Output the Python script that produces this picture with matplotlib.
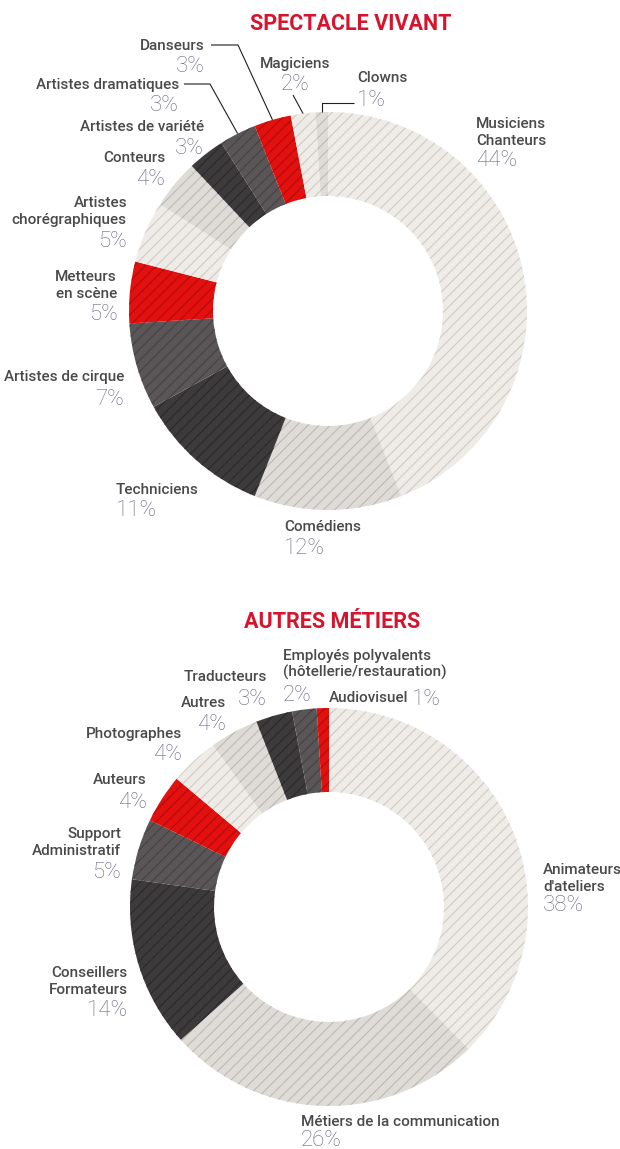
import matplotlib
matplotlib.use('Agg')
import matplotlib.pyplot as plt
import numpy as np

plt.rcParams['font.family'] = ['Roboto', 'DejaVu Sans']
plt.rcParams['hatch.linewidth'] = 0.8

# ---------------- data ----------------
sv_title = 'SPECTACLE VIVANT'
sv_labels = ['Musiciens\nChanteurs', 'Comédiens', 'Techniciens', 'Artistes de cirque',
             'Metteurs\nen scène', 'Artistes\nchorégraphiques', 'Conteurs',
             'Artistes de variété', 'Artistes dramatiques', 'Danseurs', 'Magiciens', 'Clowns']
sv_values = [44, 12, 11, 7, 5, 5, 4, 3, 3, 3, 2, 1]

am_title = 'AUTRES MÉTIERS'
am_labels = ["Animateurs\nd'ateliers", 'Métiers de la communication', 'Conseillers\nFormateurs',
             'Support\nAdministratif', 'Auteurs', 'Photographes', 'Autres', 'Traducteurs',
             'Employés polyvalents\n(hôtellerie/restauration)', 'Audiovisuel']
am_values = [38, 26, 14, 5, 4, 4, 4, 3, 2, 1]

# ---------------- style ----------------
palette = ['#efebe7', '#dfdbd7', '#3d3a3c', '#5a5658', '#e2100f']
hatch_cols = ['#cfcac5', '#bdb8b3', '#2b292a', '#464244', '#b30b0b']
label_col = '#4a4a4a'
pct_col = '#67667e'
title_col = '#d7142e'

W, H, DPI = 620, 1149, 100
R_OUT, R_IN = 199, 115

# label layout: x, ha, first-line centre y, percent x, percent centre y  (pixels)
sv_layout = [
    (476, 'left', 123, 476, 158), (284, 'left', 526, 284, 546), (116, 'left', 489, 116, 508),
    (124, 'right', 376, 124, 397), (117, 'right', 276, 118, 312), (127, 'right', 202, 127, 239),
    (165, 'right', 157, 165, 177), (204, 'right', 126, 204, 146), (179, 'right', 84, 179, 103),
    (205, 'right', 45, 205, 64), (295, 'center', 63, 295, 82), (357, 'left', 77, 357, 98),
]
am_layout = [
    (543, 'left', 869, 543, 903), (301, 'left', 1121, 301, 1138), (128, 'right', 972, 128, 1008),
    (121, 'right', 833, 121, 870), (147, 'right', 779, 147, 800), (182, 'right', 733, 182, 752),
    (226, 'right', 702, 226, 722), (267, 'right', 676, 267, 697), (283, 'left', 655, 283, 693),
    (329, 'left', 697, 412, 697),
]
# leader elbows (index -> list of elbow points), end point computed from wedge
sv_leaders = {9: [(211, 45), (238, 45)], 8: [(184, 84), (210, 84)],
              10: [(293, 95)], 11: [(354, 103), None]}

fig = plt.figure(figsize=(W / DPI, H / DPI), dpi=DPI)
fig.patch.set_facecolor('white')

LBL_FS = 11
PCT_FS = 16
LINE_H = 16.3


def donut(cx, cy, values):
    ax = fig.add_axes([(cx - R_OUT) / W, (H - cy - R_OUT) / H, 2 * R_OUT / W, 2 * R_OUT / H])
    cols = [palette[i % 5] for i in range(len(values))]
    wedges, _ = ax.pie(values, colors=cols, startangle=90, counterclock=False, radius=1,
                       wedgeprops=dict(width=1 - R_IN / R_OUT, linewidth=0))
    for i, w in enumerate(wedges):
        w.set_hatch('///')
        w.set_edgecolor(hatch_cols[i % 5])
        w.set_linewidth(0)
    ax.set_xlim(-1, 1)
    ax.set_ylim(-1, 1)
    ax.set_axis_off()
    return wedges


def put_labels(ov, labels, values, layout):
    for lab, v, (x, ha, y0, xp, yp) in zip(labels, values, layout):
        lines = lab.split('\n')
        for k, ln in enumerate(lines):
            yc = y0 + k * LINE_H
            ov.text(x, yc + 5.4, ln, ha=ha, va='baseline', fontsize=LBL_FS,
                    fontweight='medium', color=label_col)
        ov.text(xp, yp + 7.9, f'{v}%', ha=ha, va='baseline', fontsize=PCT_FS,
                fontweight='light', color=pct_col)


# top donut
sv_c = (328, 311)
sv_w = donut(*sv_c, sv_values)
# bottom donut
am_c = (329, 907)
am_w = donut(*am_c, am_values)

ov = fig.add_axes([0, 0, 1, 1])
ov.set_xlim(0, W)
ov.set_ylim(H, 0)
ov.set_axis_off()
ov.patch.set_alpha(0)

ov.text(351, 22 + 8, sv_title, ha='center', va='baseline', fontsize=15.5,
        fontweight='bold', color=title_col)
ov.text(332, 620 + 8, am_title, ha='center', va='baseline', fontsize=15.5,
        fontweight='bold', color=title_col)

put_labels(ov, sv_labels, sv_values, sv_layout)
put_labels(ov, am_labels, am_values, am_layout)

for idx, pts in sv_leaders.items():
    w = sv_w[idx]
    mid = np.deg2rad((w.theta1 + w.theta2) / 2)
    ex = sv_c[0] + R_OUT * np.cos(mid)
    ey = sv_c[1] - R_OUT * np.sin(mid)
    xs, ys = [], []
    for p in pts:
        if p is None:
            xs.append(ex); ys.append(ys[-1])
        else:
            xs.append(p[0]); ys.append(p[1])
    xs.append(ex); ys.append(ey)
    ov.plot(xs, ys, color='#1e1e1e', lw=0.8, solid_capstyle='butt')

fig.savefig('out.png', dpi=DPI, facecolor='white')
